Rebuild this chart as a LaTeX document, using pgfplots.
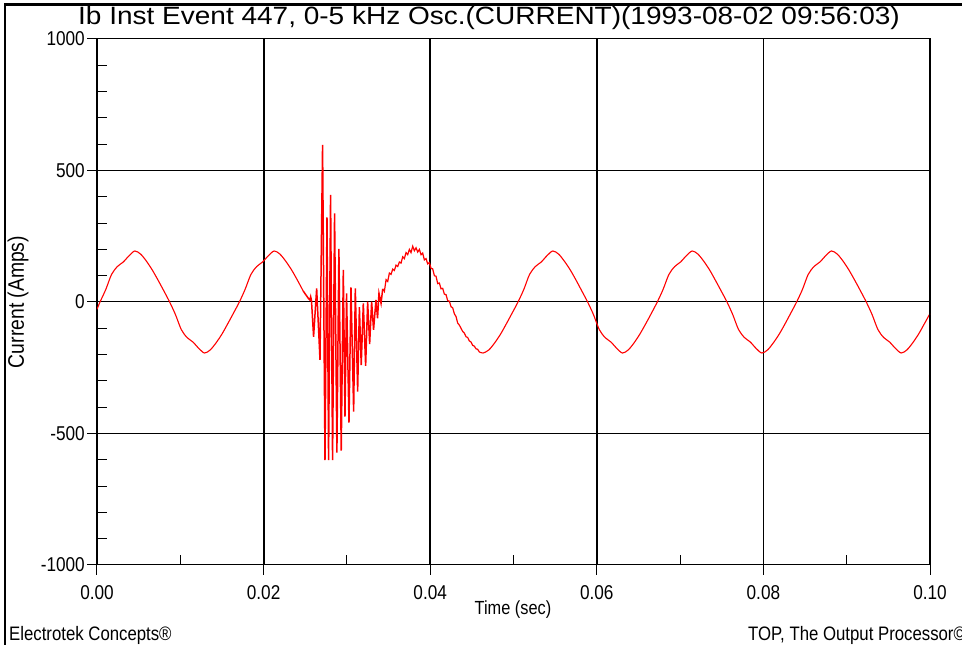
\documentclass[border=0pt]{standalone}
\usepackage{fontspec}
\setmainfont{Liberation Sans}
\newfontfamily\cf[FakeStretch=0.86]{Liberation Sans}
\newfontfamily\tf[FakeStretch=1.12]{Liberation Sans}
\usepackage{pgfplots}
\pgfplotsset{compat=1.18}
\begin{document}
\begin{tikzpicture}
\useasboundingbox (0pt,0pt) rectangle (962pt,645pt);
\fill[white] (0pt,0pt) rectangle (962pt,645pt);
\begin{axis}[
  at={(97pt,80pt)}, anchor=south west,
  scale only axis, width=833pt, height=526pt,
  xmin=0, xmax=0.1, ymin=-1000, ymax=1000,
  xtick={0,0.02,0.04,0.06,0.08,0.1},
  xticklabels={0.00,0.02,0.04,0.06,0.08,0.10},
  ytick={-1000,-500,0,500,1000},
  yticklabels={-1000,-500,0,500,1000},
  scaled x ticks=false, scaled y ticks=false,
  minor x tick num=1, minor y tick num=4,
  tick pos=left,
  tick align=outside, major tick length=10pt, minor tick length=10pt,
  minor x tick style={yshift=10pt},
  minor y tick style={xshift=10pt},
  tick style={black, line width=1pt},
  grid=major,
  major x grid style={black, line width=1.8pt},
  major y grid style={black, line width=1pt},
  axis line style={black, line width=1pt},
  ticklabel style={font=\cf\fontsize{20}{20}\selectfont, inner sep=2pt},
  xticklabel style={yshift=-8pt},
  /pgf/number format/assume math mode=true,
]
\addplot[red, line width=1.1pt, smooth] coordinates {
(0,-28)
(0.00036,0)(0.00106,48)(0.00175,105)(0.00245,135)(0.00315,152)(0.00385,176)(0.00454,194)(0.00524,182)(0.00594,155)(0.00663,122)(0.00733,83)(0.00803,42)(0.00872,0)(0.00942,-48)(0.01012,-105)(0.01081,-135)(0.01151,-152)(0.01221,-176)(0.01291,-194)(0.01360,-182)(0.01430,-155)(0.01500,-122)(0.01569,-83)(0.01639,-42)
(0.01709,0)(0.01778,48)(0.01848,105)(0.01918,135)(0.01987,152)(0.02057,176)(0.02127,194)(0.02196,182)(0.02266,155)(0.02336,122)(0.02406,83)(0.02475,42)
};
\addplot[red, line width=1.5pt] coordinates {
(0.02475,42)(0.02537,14)(0.02555,8)(0.02565,20)(0.02575,5)(0.02600,-132)(0.02637,52)(0.02677,-220)(0.02708,597)(0.02737,-601)(0.02761,322)(0.02780,-601)(0.02804,407)(0.02828,-601)(0.02852,337)(0.02880,-573)(0.02904,202)(0.02932,-565)(0.02957,122)(0.02977,-436)(0.02996,33)(0.03025,-459)(0.03049,56)(0.03081,-417)(0.03101,52)(0.03129,-341)(0.03150,-20)(0.03172,-240)(0.03197,-5)(0.03225,-243)(0.03249,1)(0.03273,-160)(0.03297,1)(0.03320,-106)(0.03349,8)(0.03368,-62)(0.03385,33)(0.0341,-5)(0.0343,50)
};
\addplot[red, line width=1.2pt] coordinates {
(0.0343,50)(0.0345,40)(0.0347,85)(0.0349,78)(0.0351,110)(0.0353,105)(0.0355,125)(0.0357,120)(0.0359,140)(0.0361,135)(0.0363,152)(0.0365,148)(0.0367,172)(0.0369,165)(0.0371,188)(0.0373,180)(0.0375,200)(0.0377,188)(0.0379,212)(0.0381,195)(0.0383,206)(0.0385,190)(0.0387,200)(0.0389,180)(0.0391,186)(0.0393,160)(0.0395,165)(0.0397,145)(0.0399,150)(0.0401,128)(0.0403,126)(0.0405,100)(0.0407,98)(0.0409,70)(0.0411,72)(0.0413,50)(0.0415,52)(0.0417,30)(0.0419,28)(0.0421,5)(0.0423,3)(0.0425,-18)(0.0427,-22)(0.0429,-45)(0.0431,-55)(0.0433,-80)(0.0435,-88)(0.0437,-100)(0.0439,-112)(0.0441,-118)(0.0443,-132)(0.0445,-135)(0.0447,-148)(0.0449,-152)(0.0451,-165)(0.0453,-168)(0.0455,-178)(0.0457,-180)(0.0459,-190)
};
\addplot[red, line width=1.1pt, smooth] coordinates {
(0.0459,-190)(0.04636,-194)(0.04705,-182)(0.04775,-155)(0.04845,-122)(0.04914,-83)(0.04984,-42)
(0.05054,0)(0.05124,48)(0.05193,105)(0.05263,135)(0.05333,152)(0.05402,176)(0.05472,194)(0.05542,182)(0.05611,155)(0.05681,122)(0.05751,83)(0.05820,42)(0.05890,0)(0.05960,-48)(0.06030,-105)(0.06099,-135)(0.06169,-152)(0.06239,-176)(0.06308,-194)(0.06378,-182)(0.06448,-155)(0.06517,-122)(0.06587,-83)(0.06657,-42)
(0.06726,0)(0.06796,48)(0.06866,105)(0.06936,135)(0.07005,152)(0.07075,176)(0.07145,194)(0.07214,182)(0.07284,155)(0.07354,122)(0.07423,83)(0.07493,42)(0.07563,0)(0.07632,-48)(0.07702,-105)(0.07772,-135)(0.07842,-152)(0.07911,-176)(0.07981,-194)(0.08051,-182)(0.08120,-155)(0.08190,-122)(0.08260,-83)(0.08329,-42)
(0.08399,0)(0.08469,48)(0.08538,105)(0.08608,135)(0.08678,152)(0.08748,176)(0.08817,194)(0.08887,182)(0.08957,155)(0.09026,122)(0.09096,83)(0.09166,42)(0.09235,0)(0.09305,-48)(0.09375,-105)(0.09444,-135)(0.09514,-152)(0.09584,-176)(0.09654,-194)(0.09723,-182)(0.09793,-155)(0.09863,-122)(0.09932,-83)(0.1,-44)
};
\end{axis}
\draw[line width=1.8pt] (929.5pt,80pt) -- (929.5pt,606pt);
\draw[line width=2.5pt] (5pt,0pt) -- (5pt,640.5pt) -- (962pt,640.5pt);
\node[anchor=base, inner sep=0pt, font=\tf\fontsize{25}{26}\selectfont] at (489pt,620pt) {Ib Inst Event 447, 0-5 kHz Osc.(CURRENT)(1993-08-02 09:56:03)};
\node[rotate=90, inner sep=0pt, font=\cf\fontsize{22.5}{23}\selectfont] at (18pt,343pt) {Current (Amps)};
\node[inner sep=0pt, font=\cf\fontsize{19}{19}\selectfont] at (513pt,35pt) {Time (sec)};
\node[anchor=base west, inner sep=0pt, font=\cf\fontsize{19.5}{20}\selectfont] at (9pt,4.5pt) {Electrotek Concepts®};
\node[anchor=base west, inner sep=0pt, font=\cf\fontsize{19.5}{20}\selectfont] at (748pt,4pt) {TOP, The Output Processor©};
\end{tikzpicture}
\end{document}
